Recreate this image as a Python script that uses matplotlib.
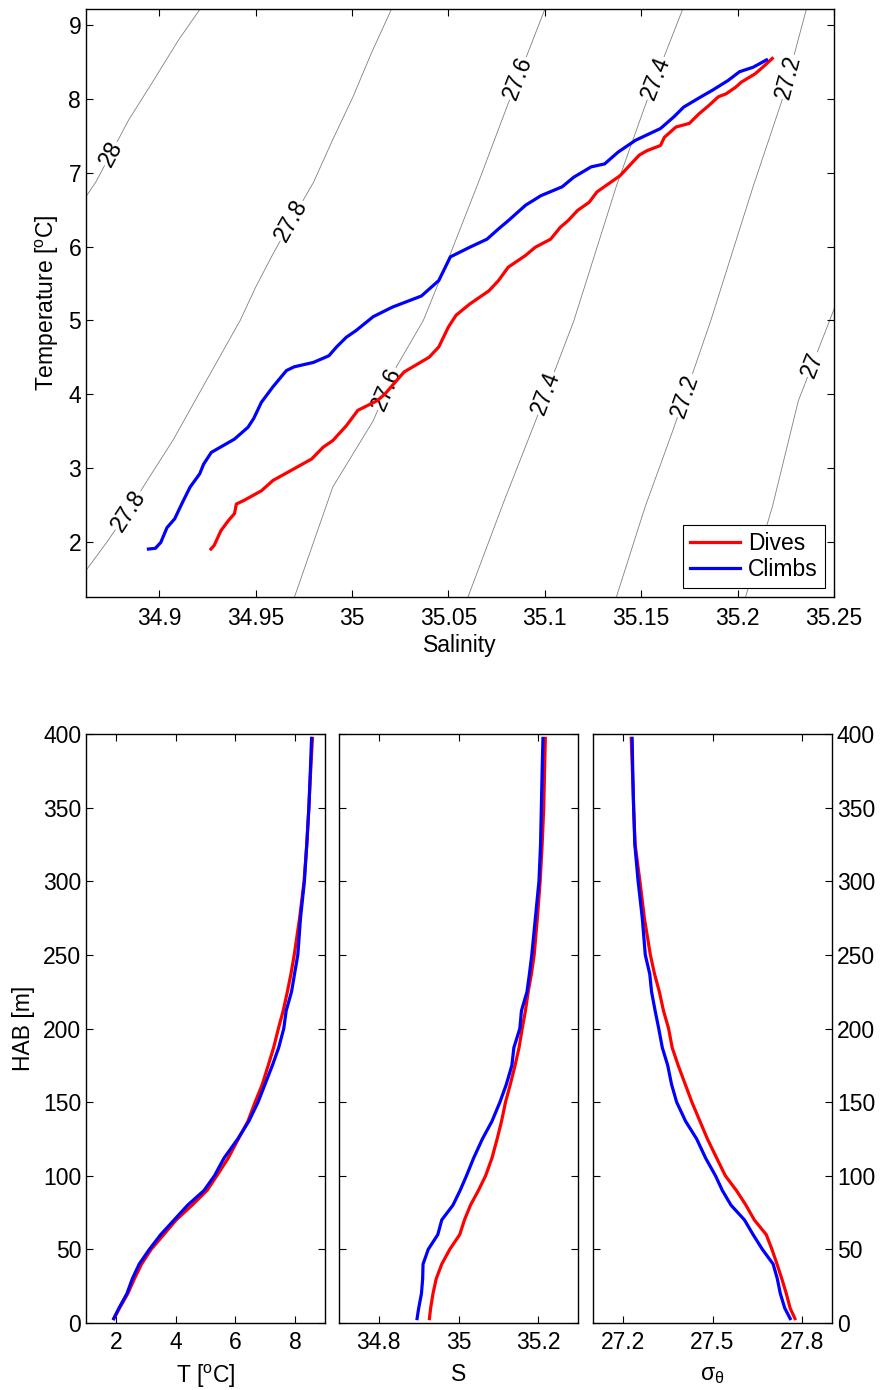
import numpy as np
import matplotlib
matplotlib.use("Agg")
import matplotlib.pyplot as plt

# --- T-S diagram ---
ts_dive_S = [34.9268, 34.9285, 34.932, 34.936, 34.939, 34.940, 34.944, 34.953, 34.959, 34.968,
             34.979, 34.985, 34.990, 34.997, 35.003, 35.013, 35.017, 35.027, 35.040, 35.045,
             35.050, 35.054, 35.061, 35.071, 35.076, 35.081, 35.090, 35.095, 35.103, 35.108,
             35.112, 35.117, 35.123, 35.127, 35.133, 35.139, 35.144, 35.149, 35.153, 35.160,
             35.162, 35.168, 35.175, 35.180, 35.185, 35.190, 35.194, 35.199, 35.202, 35.209,
             35.213, 35.218]
ts_dive_T = [1.90, 1.95, 2.15, 2.29, 2.38, 2.51, 2.56, 2.69, 2.83, 2.96,
             3.12, 3.28, 3.37, 3.57, 3.78, 3.91, 4.00, 4.30, 4.50, 4.64,
             4.91, 5.07, 5.22, 5.40, 5.54, 5.72, 5.88, 5.99, 6.10, 6.26,
             6.35, 6.49, 6.60, 6.74, 6.85, 6.96, 7.10, 7.24, 7.30, 7.37,
             7.48, 7.62, 7.67, 7.80, 7.91, 8.03, 8.07, 8.16, 8.23, 8.34,
             8.43, 8.55]

ts_climb_S = [34.8944, 34.898, 34.9008, 34.904, 34.908, 34.912, 34.916, 34.921, 34.923, 34.927,
              34.935, 34.939, 34.946, 34.949, 34.953, 34.959, 34.966, 34.970, 34.980, 34.988,
              34.992, 34.997, 35.002, 35.011, 35.021, 35.036, 35.045, 35.051, 35.061, 35.070,
              35.076, 35.081, 35.090, 35.098, 35.109, 35.115, 35.124, 35.131, 35.138, 35.147,
              35.160, 35.167, 35.172, 35.181, 35.187, 35.195, 35.201, 35.208, 35.215]
ts_climb_T = [1.90, 1.91, 1.99, 2.19, 2.31, 2.53, 2.74, 2.92, 3.05, 3.21,
              3.33, 3.39, 3.55, 3.67, 3.89, 4.10, 4.32, 4.37, 4.43, 4.52,
              4.64, 4.77, 4.86, 5.05, 5.18, 5.33, 5.54, 5.86, 5.99, 6.10,
              6.24, 6.35, 6.56, 6.69, 6.81, 6.94, 7.08, 7.12, 7.28, 7.44,
              7.60, 7.76, 7.89, 8.03, 8.12, 8.25, 8.37, 8.43, 8.53]

# --- sigma-theta contours (traced) ---
c28_S = [34.922, 34.910, 34.897, 34.884, 34.867, 34.860]
c28_T = [9.25, 8.80, 8.25, 7.71, 6.87, 6.60]
c278_S = [35.021, 35.010, 35.0005, 34.990, 34.980, 34.969, 34.959, 34.950, 34.942, 34.9235,
          34.907, 34.895, 34.884, 34.873, 34.862, 34.858]
c278_T = [9.25, 8.62, 8.03, 7.45, 6.87, 6.37, 5.90, 5.45, 5.00, 4.14,
          3.37, 2.88, 2.42, 2.00, 1.61, 1.45]
c276_S = [35.1005, 35.081, 35.066, 35.051, 35.037, 35.023, 35.011, 34.990, 34.970, 34.966]
c276_T = [9.25, 7.94, 6.90, 5.90, 5.00, 4.37, 3.64, 2.74, 1.24, 1.0]
c274_S = [35.172, 35.153, 35.137, 35.115, 35.096, 35.079, 35.060, 35.056]
c274_T = [9.25, 7.98, 6.81, 4.99, 3.69, 2.56, 1.24, 1.0]
c272_S = [35.236, 35.223, 35.208, 35.186, 35.167, 35.152, 35.137, 35.133]
c272_T = [9.25, 7.98, 6.81, 4.99, 3.55, 2.47, 1.24, 1.0]
c270_S = [35.254, 35.250, 35.2315, 35.218, 35.204, 35.200]
c270_T = [5.30, 5.15, 3.91, 2.47, 1.24, 1.0]

contour_text = ["28", "27.8", "27.6", "27.4", "27.2", "27"]
# temperature where each contour carries a label
label_T = [[7.26], [6.35, 2.42], [8.28, 4.07], [8.28, 4.01], [8.30, 3.98], [4.40]]

ts_xticks = [34.9, 34.95, 35.0, 35.05, 35.1, 35.15, 35.2, 35.25]
ts_xticklabels = ["34.9", "34.95", "35", "35.05", "35.1", "35.15", "35.2", "35.25"]

# --- profiles vs height above bottom ---
hab = [3, 10, 20, 30, 40, 50, 60, 70, 80, 90, 100, 112, 125, 137, 150, 162, 175, 187,
       200, 212, 225, 237, 250, 275, 300, 325, 350, 375, 397]

dive_T = [1.93, 2.12, 2.40, 2.62, 2.86, 3.18, 3.60, 4.02, 4.55, 5.05, 5.38, 5.76, 6.10, 6.42,
          6.66, 6.90, 7.10, 7.28, 7.44, 7.60, 7.74, 7.86, 7.97, 8.15, 8.30, 8.39, 8.46, 8.52, 8.58]
climb_T = [1.93, 2.10, 2.37, 2.55, 2.78, 3.12, 3.50, 3.95, 4.40, 4.95, 5.30, 5.62, 6.08, 6.45,
           6.76, 6.99, 7.24, 7.45, 7.62, 7.70, 7.88, 7.98, 8.09, 8.18, 8.31, 8.39, 8.46, 8.51, 8.55]

dive_S = [34.927, 34.930, 34.936, 34.944, 34.958, 34.978, 35.003, 35.015, 35.030, 35.050,
          35.068, 35.084, 35.097, 35.108, 35.118, 35.130, 35.142, 35.152, 35.160, 35.168,
          35.175, 35.183, 35.190, 35.198, 35.205, 35.210, 35.214, 35.216, 35.218]
climb_S = [34.896, 34.900, 34.907, 34.910, 34.911, 34.924, 34.948, 34.958, 34.986, 35.004,
           35.020, 35.038, 35.060, 35.084, 35.104, 35.120, 35.134, 35.139, 35.154, 35.158,
           35.172, 35.178, 35.184, 35.193, 35.202, 35.206, 35.208, 35.210, 35.212]

dive_sig = [27.776, 27.760, 27.747, 27.732, 27.716, 27.699, 27.680, 27.640, 27.612, 27.580,
            27.543, 27.514, 27.483, 27.458, 27.431, 27.409, 27.385, 27.365, 27.353, 27.336,
            27.322, 27.306, 27.292, 27.272, 27.257, 27.241, 27.236, 27.232, 27.228]
climb_sig = [27.760, 27.742, 27.727, 27.717, 27.703, 27.667, 27.636, 27.607, 27.562, 27.533,
             27.510, 27.477, 27.447, 27.410, 27.380, 27.363, 27.350, 27.332, 27.320, 27.308,
             27.296, 27.290, 27.275, 27.265, 27.251, 27.240, 27.236, 27.233, 27.231]

hab_ticks = [0, 50, 100, 150, 200, 250, 300, 350, 400]

FS = 16.5
plt.rcParams["font.family"] = ["Liberation Sans", "DejaVu Sans"]
plt.rcParams["mathtext.fontset"] = "custom"
plt.rcParams["mathtext.rm"] = "Liberation Sans"
plt.rcParams["mathtext.it"] = "Liberation Sans:italic"
plt.rcParams["font.size"] = FS
plt.rcParams["axes.linewidth"] = 1.0
for a in ("xtick", "ytick"):
    plt.rcParams[a + ".direction"] = "in"
    plt.rcParams[a + ".major.size"] = 5
    plt.rcParams[a + ".major.width"] = 0.8
    plt.rcParams[a + ".labelsize"] = FS
plt.rcParams["xtick.top"] = True
plt.rcParams["ytick.right"] = True

W, H = 880, 1390
fig = plt.figure(figsize=(W / 100, H / 100), dpi=100)

def box(x0, y0, x1, y1):
    return [x0 / W, 1 - y1 / H, (x1 - x0) / W, (y1 - y0) / H]

# ---------------- T-S diagram ----------------
ax = fig.add_axes(box(86, 9, 834, 597))
ax.set_xlim(34.862, 35.25)
ax.set_ylim(1.25, 9.22)

contours = [(c28_S, c28_T), (c278_S, c278_T), (c276_S, c276_T),
            (c274_S, c274_T), (c272_S, c272_T), (c270_S, c270_T)]
for (cs, ct), txt, lts in zip(contours, contour_text, label_T):
    ax.plot(cs, ct, color="0.5", lw=0.6, zorder=1)
    order = np.argsort(ct)
    ts_sorted = np.array(ct)[order]
    ss_sorted = np.array(cs)[order]
    for t0 in lts:
        s0 = np.interp(t0, ts_sorted, ss_sorted)
        p1 = ax.transData.transform((np.interp(t0 - 0.3, ts_sorted, ss_sorted), t0 - 0.3))
        p2 = ax.transData.transform((np.interp(t0 + 0.3, ts_sorted, ss_sorted), t0 + 0.3))
        ang = np.degrees(np.arctan2(p2[1] - p1[1], p2[0] - p1[0]))
        ax.text(s0, t0, txt, rotation=ang, rotation_mode="anchor", ha="center", va="center",
                fontsize=FS, zorder=2,
                bbox=dict(facecolor="white", edgecolor="none", pad=0.5))

ax.plot(ts_dive_S, ts_dive_T, color="red", lw=2.3, label="Dives", zorder=3)
ax.plot(ts_climb_S, ts_climb_T, color="blue", lw=2.3, label="Climbs", zorder=3)
ax.set_xticks(ts_xticks)
ax.set_xticklabels(ts_xticklabels)
ax.set_yticks(range(2, 10))
ax.tick_params(axis="x", pad=7)
ax.set_xlabel("Salinity", labelpad=3)
ax.set_ylabel("Temperature [$^{\\mathrm{o}}$C]", labelpad=5)
leg = ax.legend(loc="lower right", fancybox=False, edgecolor="k", framealpha=1,
                borderaxespad=0.4, handlelength=2.2, handletextpad=0.35,
                labelspacing=0.15, borderpad=0.3, fontsize=FS)
leg.get_frame().set_linewidth(0.8)

# ---------------- profiles ----------------
ax_t = fig.add_axes(box(86, 734, 325, 1323))
ax_s = fig.add_axes(box(339, 734, 578, 1323))
ax_g = fig.add_axes(box(593, 734, 832, 1323))

ax_t.plot(dive_T, hab, color="red", lw=2.3)
ax_t.plot(climb_T, hab, color="blue", lw=2.3)
ax_t.set_xlim(1, 9)
ax_t.set_xticks([2, 4, 6, 8])
ax_t.set_xlabel("T [$^{\\mathrm{o}}$C]", labelpad=6)
ax_t.set_ylabel("HAB [m]", labelpad=6)

ax_s.plot(dive_S, hab, color="red", lw=2.3)
ax_s.plot(climb_S, hab, color="blue", lw=2.3)
ax_s.set_xlim(34.7, 35.3)
ax_s.set_xticks([34.8, 35.0, 35.2])
ax_s.set_xticklabels(["34.8", "35", "35.2"])
ax_s.set_xlabel("S", labelpad=6)

ax_g.plot(dive_sig, hab, color="red", lw=2.3)
ax_g.plot(climb_sig, hab, color="blue", lw=2.3)
ax_g.set_xlim(27.1, 27.9)
ax_g.set_xticks([27.2, 27.5, 27.8])
ax_g.set_xticklabels(["27.2", "27.5", "27.8"])
ax_g.set_xlabel("$\\mathrm{\\sigma_{\\theta}}$", labelpad=6)

for a in (ax_t, ax_s, ax_g):
    a.set_ylim(0, 400)
    a.set_yticks(hab_ticks)
    a.tick_params(axis="x", pad=6)
ax_s.tick_params(axis="y", labelleft=False)
ax_g.tick_params(axis="y", labelleft=False, labelright=True)

fig.savefig("out.png", dpi=100)
